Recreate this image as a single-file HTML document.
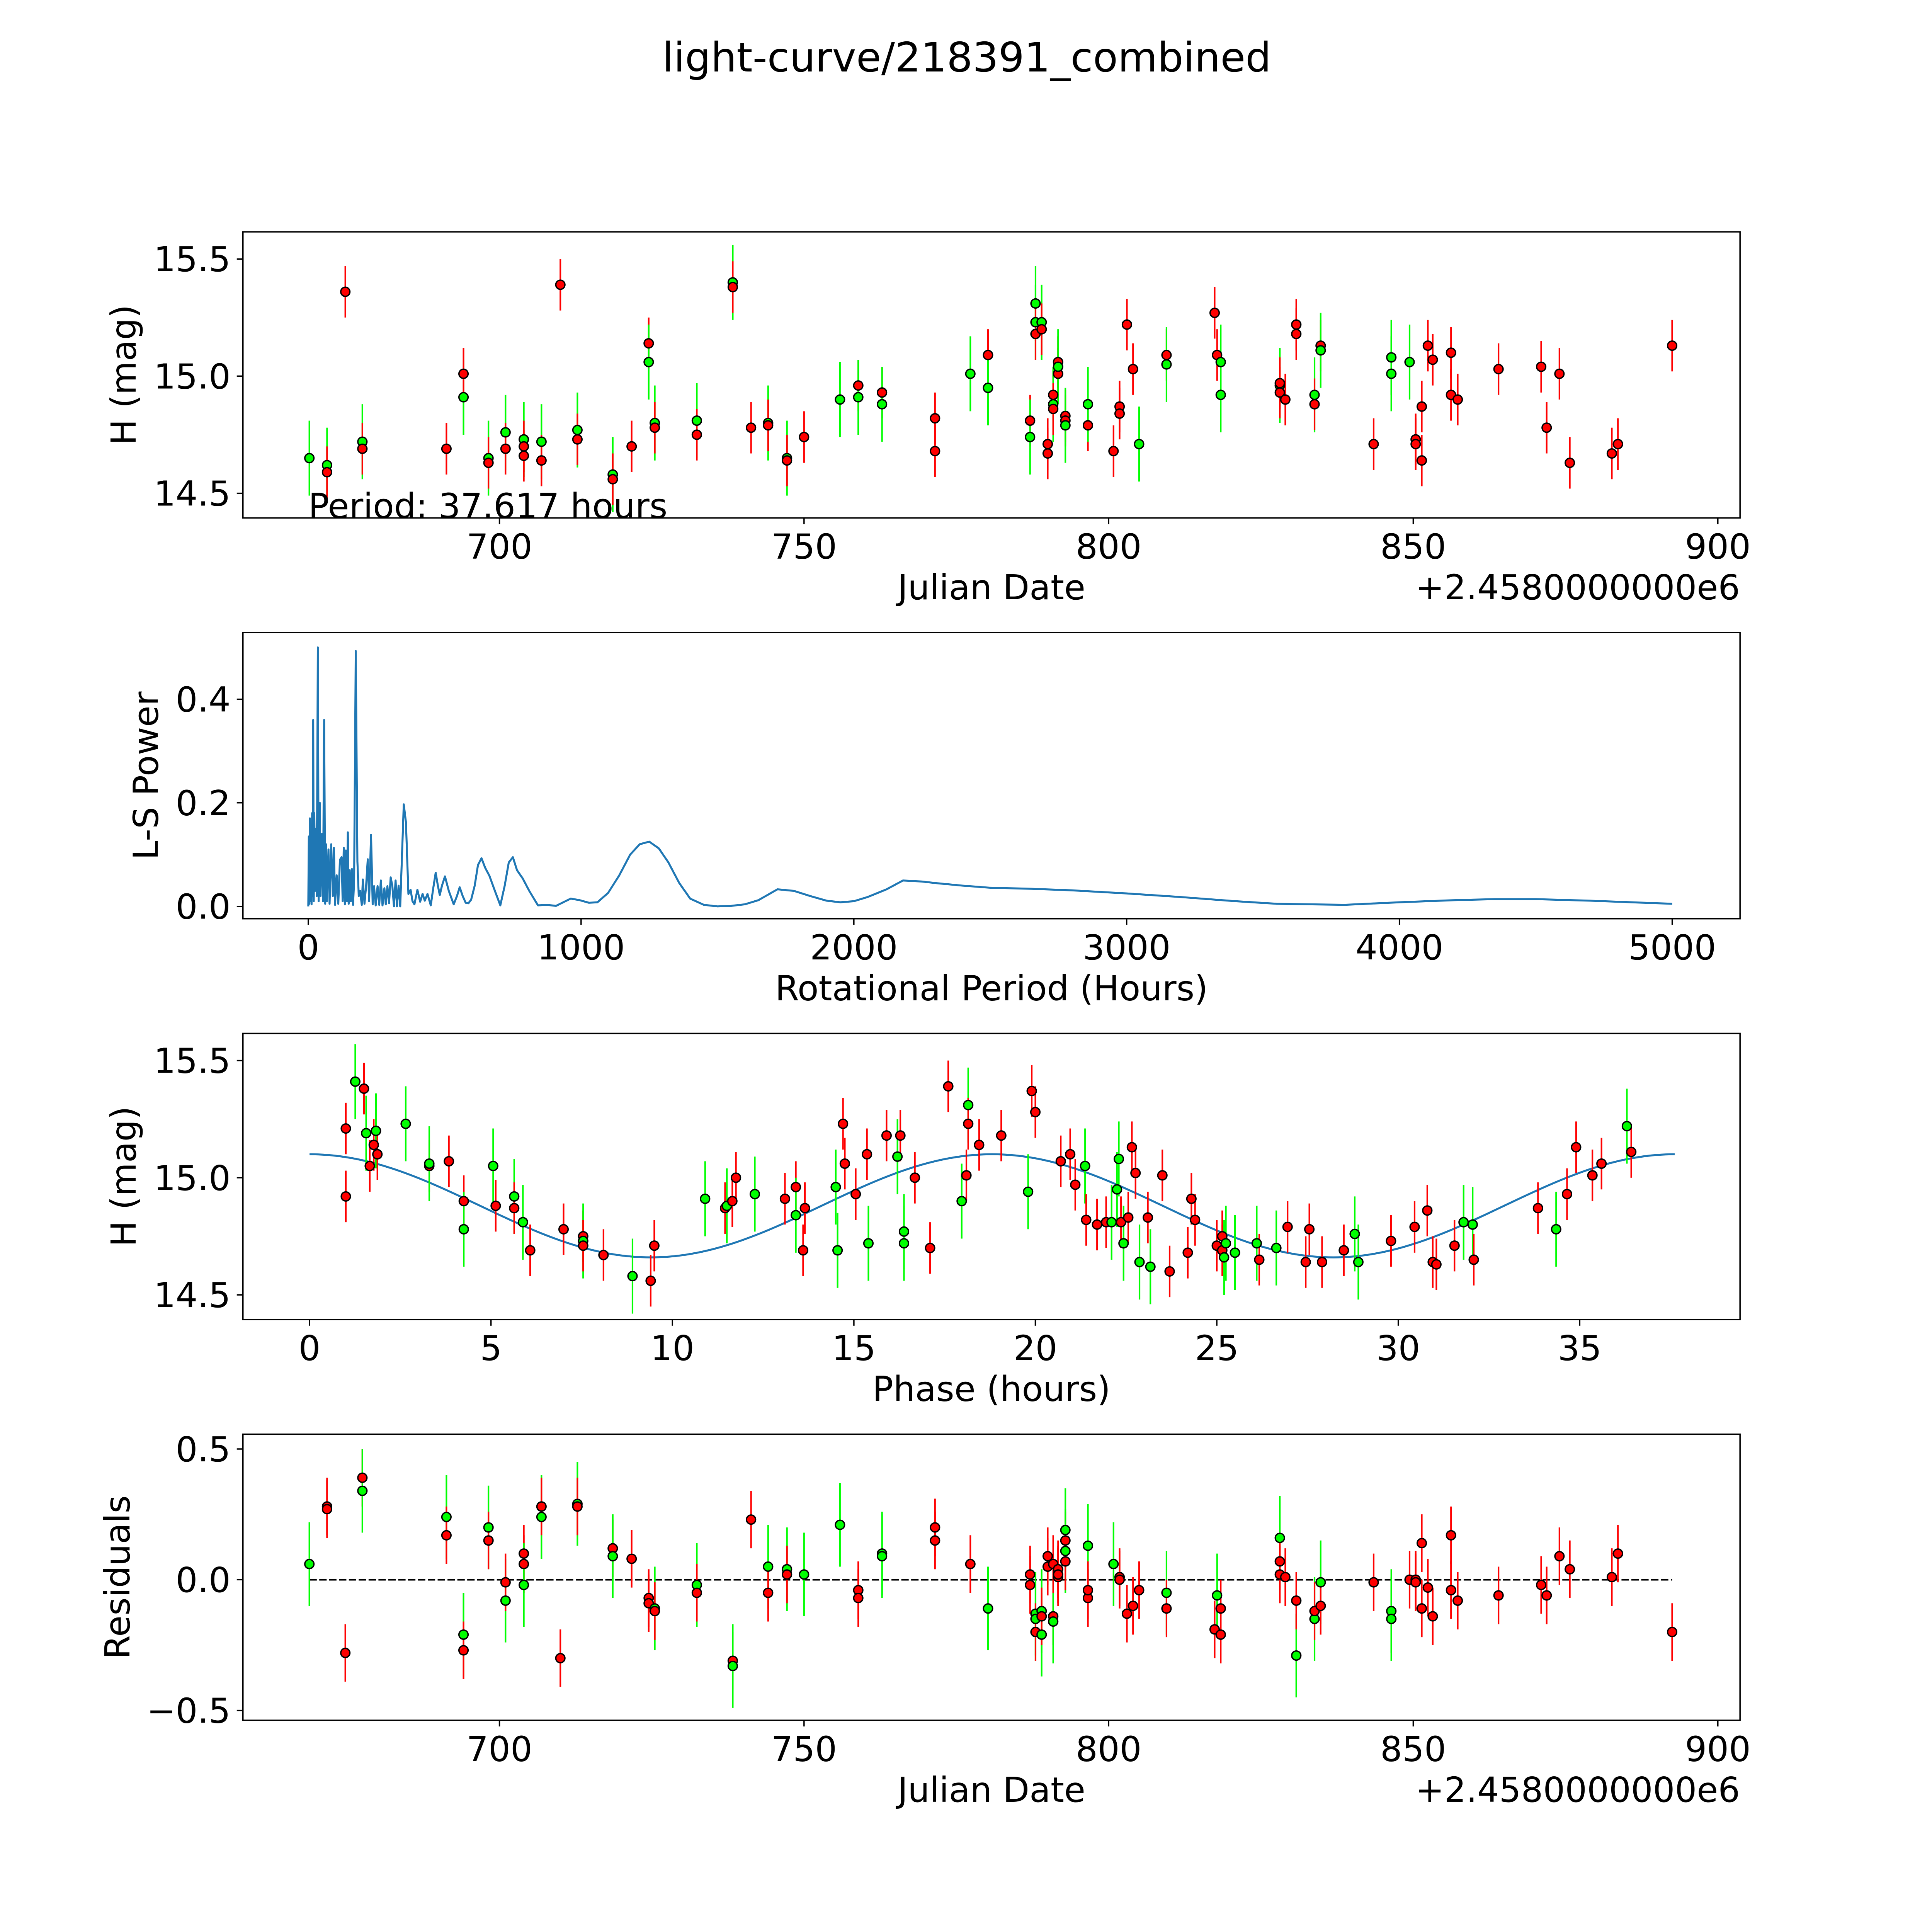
<!DOCTYPE html>
<html><head><meta charset="utf-8"><style>
html,body{margin:0;padding:0;background:#fff;width:5400px;height:5400px;overflow:hidden;}
svg{display:block;font-family:"DejaVu Sans","Liberation Sans",sans-serif;}
</style></head><body>
<svg id="fig" xmlns="http://www.w3.org/2000/svg" width="5400" height="5400" viewBox="0 0 1692 1692">
<rect x="0" y="0" width="1692" height="1692" fill="#fff"/>
<text x="784" y="58" font-size="33" text-anchor="middle">light-curve/218391_combined</text>
</svg>
<script>
// ---- Panel 1: light curve ----
const p1Jd = [668.8,671.7,671.7,674.7,677.5,677.5,691.3,694.1,694.1,698.2,698.2,701,701,704,704,704,706.9,706.9,710,712.8,712.8,718.6,718.6,721.7,724.5,724.5,725.5,725.5,732.4,732.4,738.3,738.3,741.3,744.1,744.1,747.2,747.2,750,755.9,758.9,758.9,762.8,762.8,771.5,771.5,777.3,780.2,780.2,787.1,787.1,788,788,788,789,789,790,790,790.9,790.9,790.9,791.7,791.7,791.7,792.9,792.9,792.9,796.6,796.6,800.8,801.8,801.8,803,804,805,809.5,809.5,817.4,817.8,818.4,818.4,828.1,828.1,828.1,829,830.8,830.8,833.8,833.8,834.8,834.8,843.5,846.4,846.4,849.4,850.4,850.4,851.4,851.4,852.4,853.2,856.2,856.2,857.3,864,871,871.9,874,875.7,882.6,883.6,892.5];
const p1Mag = [14.65,14.62,14.59,15.36,14.72,14.69,14.69,14.91,15.01,14.65,14.63,14.76,14.69,14.73,14.70,14.66,14.72,14.64,15.39,14.77,14.73,14.58,14.56,14.70,15.14,15.06,14.80,14.78,14.81,14.75,15.40,15.38,14.78,14.80,14.79,14.65,14.64,14.74,14.90,14.96,14.91,14.93,14.88,14.82,14.68,15.01,15.09,14.95,14.81,14.74,15.31,15.23,15.18,15.23,15.20,14.71,14.67,14.92,14.88,14.86,15.06,15.01,15.04,14.83,14.81,14.79,14.79,14.88,14.68,14.87,14.84,15.22,15.03,14.71,15.09,15.05,15.27,15.09,15.06,14.92,14.96,14.93,14.97,14.90,15.22,15.18,14.92,14.88,15.13,15.11,14.71,15.08,15.01,15.06,14.73,14.71,14.87,14.64,15.13,15.07,15.10,14.92,14.90,15.03,15.04,14.78,15.01,14.63,14.67,14.71,15.13];
const p1Col = "ggrrgrrgrgrgrgrrgrrgrgrrrggrgrgrrgrgrrgrgrgrrgrgrgggrgrrrrgrrrgrrgrgrrrrrgrgrrgggrrrrrgrrgrgggrrrrrrrrrrrrrrrrrrrr";
// ---- Panel 2: periodogram ----
const lsPeriod = [
 0,2,4,6,8,10,12,14,16,18,
 20,22,25,28,31,35,38,42,45,50,
 54,58,62,65,68,74,78,84,90,94,
 98,104,110,116,122,126,130,134,138,142,
 145,148,152,156,160,164,168,174,180,185,
 190,196,200,206,212,218,223,230,236,241,
 247,254,260,266,272,279,284,290,296,302,
 308,314,320,325,331,337,350,358,367,375,
 382,389,400,410,419,427,437,449,458,467,
 475,482,490,501,515,533,545,555,566,577,
 587,597,610,622,635,648,664,684,704,720,
 735,750,765,786,810,842,874,908,935,962,
 995,1029,1060,1099,1140,1180,1215,1250,1285,1320,
 1360,1400,1450,1500,1550,1600,1650,1720,1780,1840,
 1900,1950,2000,2050,2120,2180,2250,2300,2400,2500,
 2650,2800,3000,3200,3400,3550,3800,4000,4200,4350,
 4500,4700,4850,5000];
const lsPower = [
 0,0.135,0.005,0.17,0.01,0.136,0.004,0.18,0.02,0.36,
 0.01,0.18,0.03,0.15,0.02,0.50,0.01,0.20,0.02,0.14,
 0.01,0.36,0.005,0.12,0.01,0.11,0.005,0.12,0.02,0.113,
 0.003,0.06,0.005,0.09,0.095,0.01,0.113,0.004,0.108,0.01,
 0.143,0.005,0.07,0.01,0.072,0.003,0.05,0.493,0.087,0.02,
 0.03,0.003,0.052,0.005,0.04,0.091,0.01,0.138,0.004,0.039,
 0.002,0.039,0.003,0.05,0.002,0.035,0.004,0.039,0.006,0.056,
 0.04,0.0,0.05,0.0,0.04,0.0,0.197,0.162,0.024,0.032,
 0.01,0.004,0.032,0.009,0.024,0.011,0.024,0.002,0.035,0.065,
 0.04,0.022,0.04,0.058,0.03,0.004,0.02,0.037,0.02,0.007,
 0.006,0.013,0.04,0.08,0.093,0.075,0.059,0.03,0.002,0.04,
 0.085,0.095,0.07,0.054,0.03,0.002,0.003,0.001,0.008,0.015,
 0.012,0.007,0.008,0.026,0.06,0.1,0.12,0.125,0.112,0.085,
 0.045,0.015,0.003,0.0,0.001,0.004,0.012,0.033,0.03,0.02,
 0.011,0.008,0.01,0.018,0.033,0.05,0.048,0.045,0.04,0.036,
 0.034,0.031,0.025,0.018,0.01,0.005,0.003,0.008,0.012,0.014,
 0.014,0.011,0.008,0.005];
// ---- Panel 3: phase-folded ----
const p3Phase = [1.0,1.0,1.26,1.5,1.56,1.66,1.77,1.83,1.87,2.65,3.3,3.3,3.84,4.25,4.25,5.06,5.13,5.64,5.64,5.88,6.08,7.0,7.54,7.54,7.54,8.1,8.9,9.4,9.5,10.9,11.45,11.5,11.65,11.75,12.27,13.1,13.4,13.4,13.6,13.65,14.5,14.55,14.7,14.75,15.05,15.36,15.4,15.9,16.2,16.28,16.38,16.38,16.68,17.1,17.6,17.97,18.1,18.15,18.15,18.45,19.06,19.8,19.9,20.0,20.7,20.96,21.1,21.37,21.4,21.7,21.95,22.1,22.25,22.3,22.36,22.43,22.56,22.66,22.76,22.87,23.1,23.17,23.5,23.7,24.2,24.3,24.4,25.0,25.15,25.15,25.2,25.25,25.5,26.1,26.17,26.64,26.95,27.45,27.55,27.9,28.5,28.8,28.9,29.8,30.45,30.8,30.95,31.05,31.55,31.8,32.05,32.08,33.85,34.35,34.65,34.9,35.35,35.6,36.3,36.42];
const p3Mag = [15.21,14.92,15.41,15.38,15.19,15.05,15.14,15.2,15.10,15.23,15.05,15.06,15.07,14.9,14.78,15.05,14.88,14.92,14.87,14.81,14.69,14.78,14.75,14.73,14.71,14.67,14.58,14.56,14.71,14.91,14.87,14.88,14.9,15.0,14.93,14.91,14.96,14.84,14.69,14.87,14.96,14.69,15.23,15.06,14.93,15.1,14.72,15.18,15.09,15.18,14.77,14.72,15.0,14.7,15.39,14.9,15.01,15.31,15.23,15.14,15.18,14.94,15.37,15.28,15.07,15.1,14.97,15.05,14.82,14.8,14.81,14.81,14.95,15.08,14.81,14.72,14.83,15.13,15.02,14.64,14.83,14.62,15.01,14.6,14.68,14.91,14.82,14.71,14.75,14.69,14.66,14.72,14.68,14.72,14.65,14.7,14.79,14.64,14.78,14.64,14.69,14.76,14.64,14.73,14.79,14.86,14.64,14.63,14.71,14.81,14.8,14.65,14.87,14.78,14.93,15.13,15.01,15.06,15.22,15.11];
const p3Col = "rrgrgrrgrgrgrrggrgrgrrrgrrgrrgrgrrgrrgrrggrrrrgrgrggrrrgrgrrrgrrrrrgrrrgggrgrrrgrgrrrrrrrrggggrgrrrrrggrrrrrrggrrgrrrrg";
const fitParams = [14.88, 0.22, 37.617];
// ---- Panel 4: residuals ----
const p4Jd = [668.8,671.7,671.7,674.7,677.5,677.5,691.3,691.3,694.1,694.1,698.2,698.2,701,701,704,704,704,706.9,706.9,710,712.8,712.8,718.6,718.6,721.7,724.5,724.5,725.5,725.5,732.4,732.4,738.3,738.3,741.3,744.1,744.1,747.2,747.2,750,755.9,758.9,758.9,762.8,762.8,771.5,771.5,777.3,780.2,787.1,787.1,788,788,788,789,789,789,790,790,790.9,790.9,790.9,791.7,791.7,791.7,792.9,792.9,792.9,792.9,796.6,796.6,796.6,800.8,801.8,801.8,803,804,805,809.5,809.5,817.4,817.8,818.4,818.4,828.1,828.1,828.1,829,830.8,830.8,833.8,833.8,834.8,834.8,843.5,846.4,846.4,849.4,850.4,850.4,851.4,851.4,852.4,853.2,856.2,856.2,857.3,864,871,871.9,874,875.7,882.6,883.6,892.5];
const p4Res = [0.06,0.28,0.27,-0.28,0.39,0.34,0.24,0.17,-0.21,-0.27,0.2,0.15,-0.08,-0.01,0.1,0.06,-0.02,0.24,0.28,-0.3,0.29,0.28,0.12,0.09,0.08,-0.07,-0.09,-0.11,-0.12,-0.02,-0.05,-0.31,-0.33,0.23,0.05,-0.05,0.04,0.02,0.02,0.21,-0.04,-0.07,0.1,0.09,0.2,0.15,0.06,-0.11,0.02,-0.02,-0.13,-0.15,-0.2,-0.12,-0.21,-0.14,0.09,0.05,-0.14,-0.16,0.06,0.04,0.01,0.02,0.19,0.15,0.11,0.07,0.13,-0.07,-0.04,0.06,0.01,0.0,-0.13,-0.1,-0.04,-0.05,-0.11,-0.19,-0.06,-0.21,-0.11,0.16,0.07,0.02,0.01,-0.29,-0.08,-0.15,-0.12,-0.01,-0.1,-0.01,-0.12,-0.15,0,0,-0.01,0.14,-0.11,-0.03,-0.14,0.17,-0.04,-0.08,-0.06,-0.02,-0.06,0.09,0.04,0.01,0.1,-0.2];
const p4Col = "grrrrggrgrgrgrrrggrrgrrgrrrgrgrrgrgrgrggrrggrrrgrrggrggrrrrgrrrrgrgrgrrgrrrrrgrrgrrgrrrgrgrgrrggrrrrrrrrrrrrrrrrrrrr";
const ERR = {r:0.11, g:0.16};

const NS="http://www.w3.org/2000/svg";
const svg=document.getElementById('fig');
function el(tag, attrs, parent){const e=document.createElementNS(NS,tag);for(const k in attrs)e.setAttribute(k,attrs[k]);(parent||svg).appendChild(e);return e;}
function lin(d0,d1,r0,r1){return v=>r0+(v-d0)*(r1-r0)/(d1-d0);}
const COL={r:'#ff0000',g:'#00ff00'};

function axes(name,box,xs,ys,xticks,yvals,ylabs,xlab,ylab,ylabX,offset){
  const g=el('g',{});
  
  
  const fr=el('rect',{x:box[0],y:box[2],width:box[1]-box[0],height:box[3]-box[2],fill:'none',stroke:'#000','stroke-width':1.1},g);
  
  
  xticks.forEach(t=>{const x=xs(t);
    el('line',{x1:x,x2:x,y1:box[3],y2:box[3]+5,stroke:'#000','stroke-width':1.1},g);
    const tx=el('text',{x:x,y:box[3]+33,'font-size':28,'text-anchor':'middle'},g);tx.textContent=t;
    
    });
  yvals.forEach((v,i)=>{const y=ys(v);
    el('line',{x1:box[0]-5,x2:box[0],y1:y,y2:y,stroke:'#000','stroke-width':1.1},g);
    const tx=el('text',{x:box[0]-10,y:y+10,'font-size':28,'text-anchor':'end'},g);tx.textContent=ylabs[i];
    
    });
  const xl=el('text',{x:(box[0]+box[1])/2,y:box[3]+66,'font-size':28,'text-anchor':'middle'},g);xl.textContent=xlab;
  
  
  const cy=(box[2]+box[3])/2;
  const yl=el('text',{x:ylabX,y:cy,'font-size':28,'text-anchor':'middle',transform:`rotate(-90 ${ylabX} ${cy})`},g);yl.textContent=ylab;
  
  
  if(offset){const o=el('text',{x:box[1],y:box[3]+66,'font-size':28,'text-anchor':'end'},g);o.textContent=offset;
    
    }
  return g;
}
function pts(name,xsArr,ysArr,cols,xs,ys){
  const g=el('g',{});
  
  
  for(let i=0;i<xsArr.length;i++){
    const c=cols[i]||'r', x=xs(xsArr[i]), v=ysArr[i], e=ERR[c];
    const ln=el('line',{x1:x,x2:x,y1:ys(v-e),y2:ys(v+e),stroke:COL[c],'stroke-width':1.3},g);
    
    
  }
  for(let i=0;i<xsArr.length;i++){
    const c=cols[i]||'r';
    const ci=el('circle',{cx:xs(xsArr[i]),cy:ys(ysArr[i]),r:3.7,fill:COL[c],stroke:'#000','stroke-width':1.1},g);
    
    
  }
}
const jdTicks=[700,750,800,850,900];
// Panel 1
{const box=[197,1411,188,420];const xs=lin(700,850,405,1146),ys=lin(15.0,15.5,305,210);
 axes('light-curve-panel',box,xs,ys,jdTicks,[14.5,15.0,15.5],['14.5','15.0','15.5'],'Julian Date','H (mag)',110,'+2.4580000000e6');
 pts('light-curve-points',p1Jd,p1Mag,p1Col,xs,ys);
 const pt=el('text',{x:250,y:420,'font-size':28});pt.textContent='Period: 37.617 hours';
 
 }
// Panel 2
{const box=[197,1411,513,745];const xs=lin(0,5000,250,1356),ys=lin(0,0.4,735,567);
 axes('periodogram-panel',box,xs,ys,[0,1000,2000,3000,4000,5000],[0,0.2,0.4],['0.0','0.2','0.4'],'Rotational Period (Hours)','L-S Power',128,null);
 const n=Math.min(lsPeriod.length,lsPower.length);
 let d='';for(let i=0;i<n;i++)d+=(i?'L':'M')+xs(lsPeriod[i]).toFixed(2)+' '+ys(lsPower[i]).toFixed(2)+' ';
 const pa=el('path',{d:d,fill:'none',stroke:'#1f77b4','stroke-width':1.6,'stroke-linejoin':'round'});
 
 }
// Panel 3
{const box=[197,1411,838,1070];const xs=lin(0,35,251,1281),ys=lin(15.0,15.5,955,860);
 axes('phase-panel',box,xs,ys,[0,5,10,15,20,25,30,35],[14.5,15.0,15.5],['14.5','15.0','15.5'],'Phase (hours)','H (mag)',110,null);
 const [m,a,P]=fitParams;let d='';
 for(let k=0;k<=300;k++){const ph=P*k/300;const v=m+a*Math.cos(4*Math.PI*ph/P);d+=(k?'L':'M')+xs(ph).toFixed(2)+' '+ys(v).toFixed(2)+' ';}
 const pa=el('path',{d:d,fill:'none',stroke:'#1f77b4','stroke-width':1.6});
 
 
 pts('phase-points',p3Phase,p3Mag,p3Col,xs,ys);}
// Panel 4
{const box=[197,1411,1163,1395];const xs=lin(700,850,405,1146),ys=lin(0,0.5,1281,1175);
 axes('residuals-panel',box,xs,ys,jdTicks,[-0.5,0,0.5],['\u22120.5','0.0','0.5'],'Julian Date','Residuals',105,'+2.4580000000e6');
 const x0=xs(Math.min(...p4Jd)),x1=xs(Math.max(...p4Jd));
 const zl=el('line',{x1:x0,x2:x1,y1:ys(0),y2:ys(0),stroke:'#000','stroke-width':1.4,'stroke-dasharray':'6 2'});
 
 
 pts('residual-points',p4Jd,p4Res,p4Col,xs,ys);}
</script>
</body></html>
